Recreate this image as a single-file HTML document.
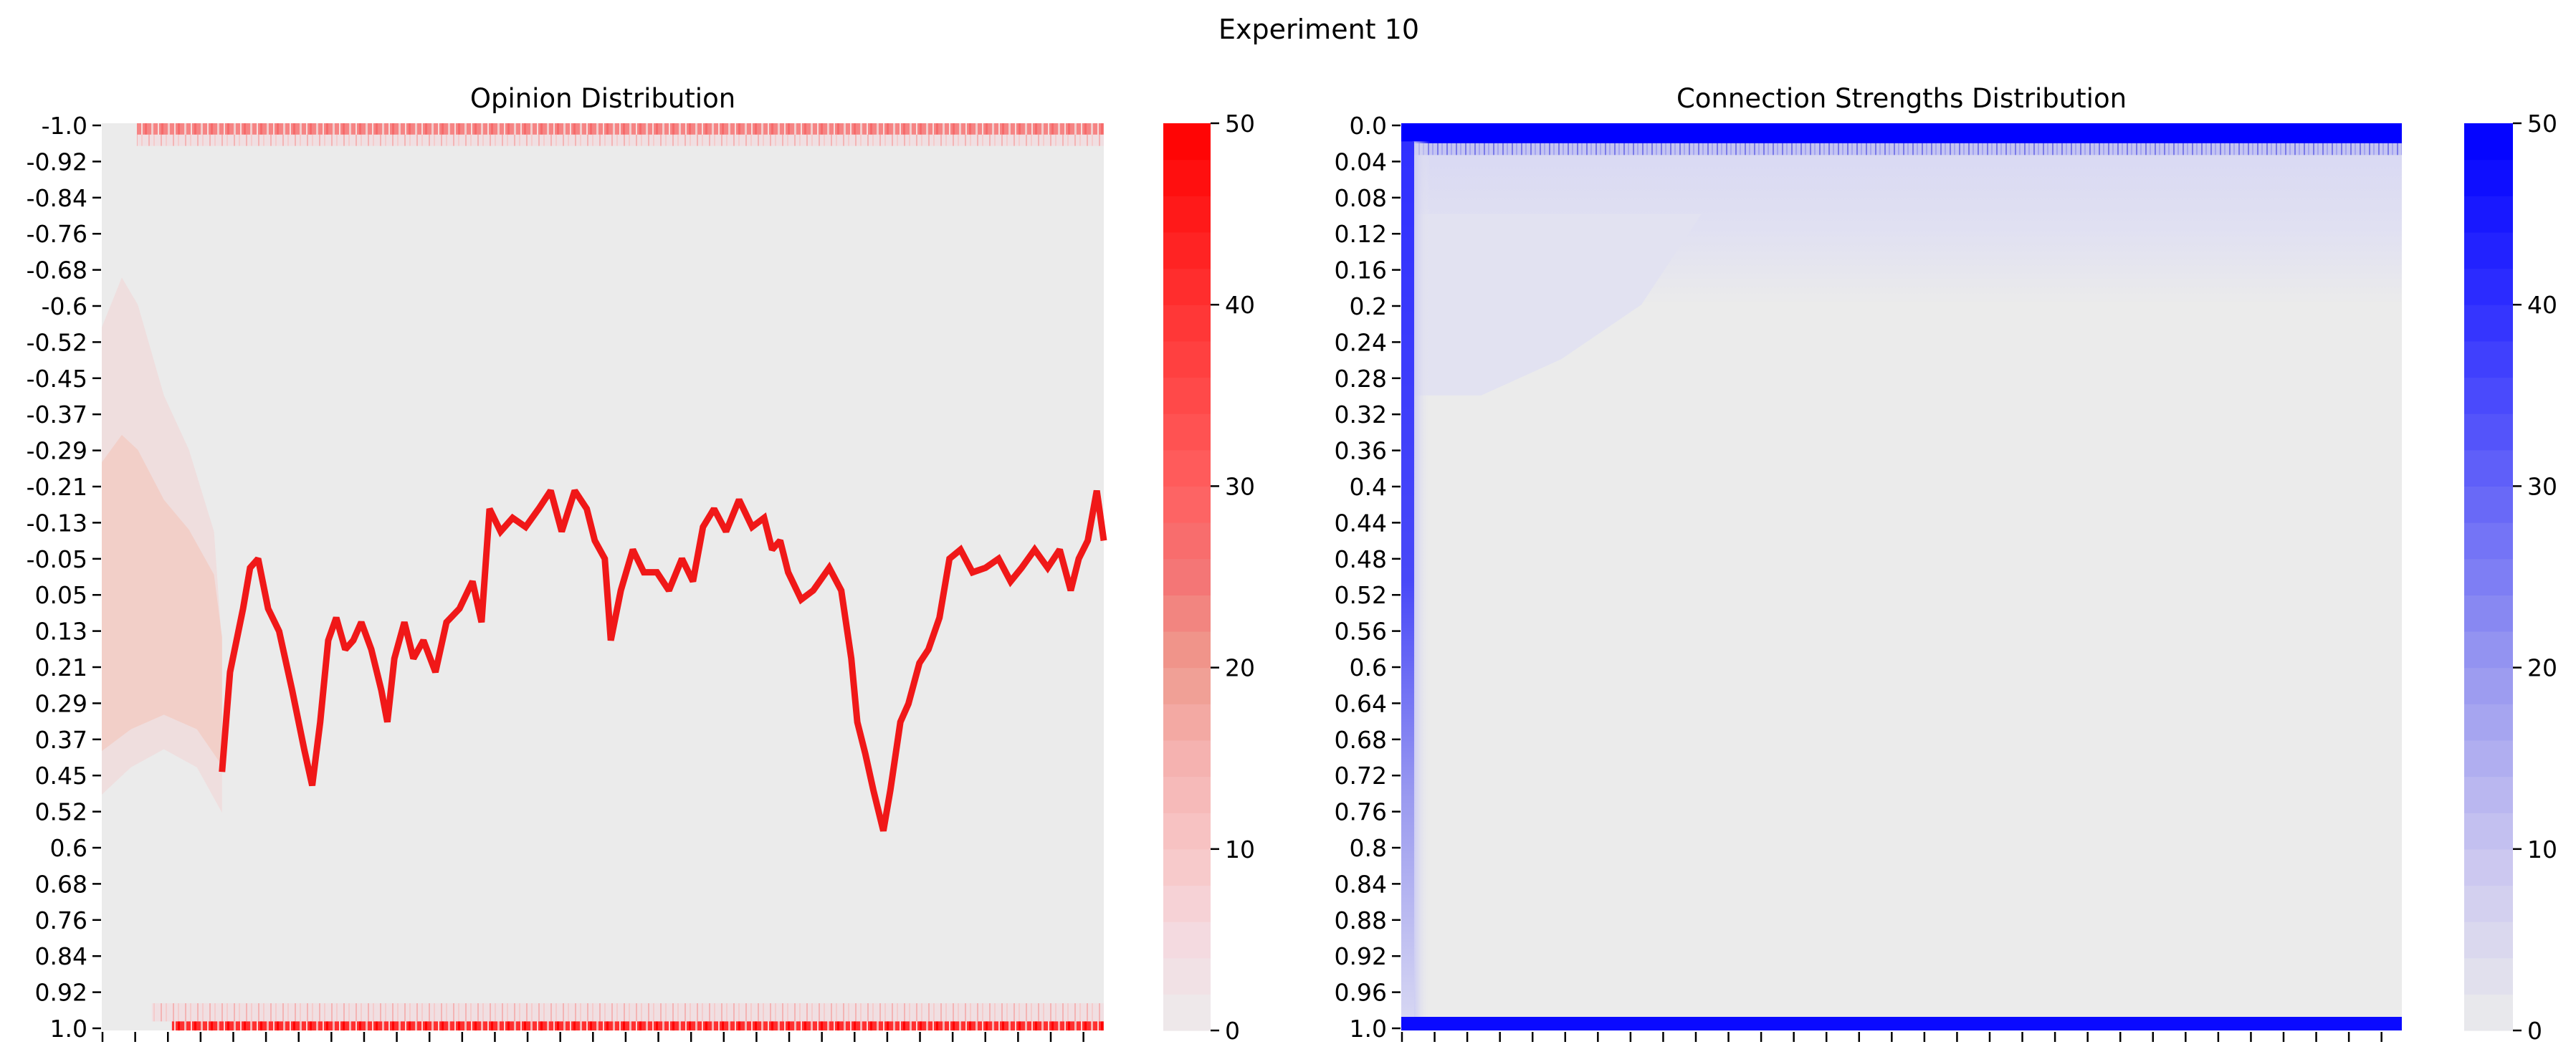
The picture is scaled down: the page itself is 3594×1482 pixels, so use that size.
<!DOCTYPE html>
<html><head><meta charset="utf-8"><style>
html,body{margin:0;padding:0;background:#fff;}
svg{display:block;font-family:"DejaVu Sans","Liberation Sans",sans-serif;}
</style></head><body>
<svg id="fig" width="3594" height="1482" viewBox="0 0 3594 1482" xmlns="http://www.w3.org/2000/svg">
<text x="1840" y="54" font-size="38" text-anchor="middle">Experiment 10</text>
<text x="841" y="150" font-size="37" text-anchor="middle">Opinion Distribution</text>
<text x="2653" y="150" font-size="37" text-anchor="middle">Connection Strengths Distribution</text>
<g id="left"></g>
<g id="right"></g>
<g id="cbl"></g>
<g id="cbr"></g>
<g id="axes"></g>
</svg>
<script>
// ---- data ----
const opinionTicks = ["-1.0","-0.92","-0.84","-0.76","-0.68","-0.6","-0.52","-0.45","-0.37","-0.29","-0.21","-0.13","-0.05","0.05","0.13","0.21","0.29","0.37","0.45","0.52","0.6","0.68","0.76","0.84","0.92","1.0"];
const strengthTicks = ["0.0","0.04","0.08","0.12","0.16","0.2","0.24","0.28","0.32","0.36","0.4","0.44","0.48","0.52","0.56","0.6","0.64","0.68","0.72","0.76","0.8","0.84","0.88","0.92","0.96","1.0"];
const colorbarTicks = [0,10,20,30,40,50];
const traceTime = [12.0,12.8,14.1,14.8,15.6,16.6,17.7,19.0,20.2,21.0,21.8,22.6,23.4,24.3,25.1,25.9,26.9,27.9,28.5,29.2,30.2,31.1,32.1,33.3,34.4,35.7,37.0,37.9,38.7,39.8,41.0,42.3,43.6,44.8,45.9,47.2,48.4,49.2,50.2,50.8,51.8,53.0,54.1,55.4,56.6,57.9,59.0,60.0,61.1,62.3,63.6,64.9,66.1,66.9,67.7,68.5,69.8,71.0,72.6,73.8,74.8,75.4,76.2,77.0,78.0,78.7,79.7,80.5,81.6,82.5,83.6,84.6,85.7,86.9,88.2,89.5,90.7,91.8,93.1,94.4,95.6,96.7,97.5,98.4,99.3,100];
const traceValue = [0.43,0.21,0.07,-0.02,-0.04,0.07,0.12,0.25,0.38,0.46,0.32,0.14,0.09,0.16,0.14,0.10,0.16,0.25,0.32,0.18,0.10,0.18,0.14,0.21,0.10,0.07,0.01,0.10,-0.15,-0.10,-0.13,-0.11,-0.15,-0.19,-0.10,-0.19,-0.15,-0.08,-0.04,0.14,0.03,-0.06,-0.01,-0.01,0.03,-0.04,0.01,-0.11,-0.15,-0.10,-0.17,-0.11,-0.13,-0.06,-0.08,-0.01,0.05,0.03,-0.02,0.03,0.18,0.32,0.39,0.47,0.56,0.47,0.32,0.28,0.19,0.16,0.09,-0.04,-0.06,-0.01,-0.02,-0.04,0.01,-0.02,-0.06,-0.02,-0.06,0.03,-0.04,-0.08,-0.19,-0.08];
const spreadUpperT = [0,2,3.6,6.2,8.7,11.2,12];
const spreadUpperV = [-0.55,-0.66,-0.60,-0.40,-0.28,-0.10,0.15];
const spreadLowerT = [12,9.5,6.2,2.9,0];
const spreadLowerV = [0.52,0.42,0.38,0.42,0.48];

const NS="http://www.w3.org/2000/svg";
function mk(parent,tag,attrs){const e=document.createElementNS(NS,tag);for(const k in attrs)e.setAttribute(k,attrs[k]);parent.appendChild(e);return e;}

const L={x0:142,x1:1540,y0:172,y1:1438};
const R={x0:1955,x1:3351,y0:172,y1:1438};
const lx=t=>L.x0+t/100*(L.x1-L.x0);
const ly=v=>L.y0+(v+1)/2*(L.y1-L.y0);
const rx=t=>R.x0+t/100*(R.x1-R.x0);
const ry=v=>R.y0+v*(R.y1-R.y0);
const BG="#ebebeb";

const gl=document.getElementById('left');
const defs=mk(document.getElementById('fig'),'defs',{});
const p1=mk(defs,'pattern',{id:'stripR',width:23,height:10,patternUnits:'userSpaceOnUse'});
mk(p1,'rect',{x:0,y:0,width:23,height:10,fill:'#ff3030'});
mk(p1,'rect',{x:4,y:0,width:3,height:10,fill:'#f6b3b3'});
mk(p1,'rect',{x:13,y:0,width:2,height:10,fill:'#ffd0d0'});
mk(p1,'rect',{x:18,y:0,width:3,height:10,fill:'#ff0000'});
const p2=mk(defs,'pattern',{id:'stripP',width:17,height:10,patternUnits:'userSpaceOnUse'});
mk(p2,'rect',{x:0,y:0,width:17,height:10,fill:'#f0dfe2'});
mk(p2,'rect',{x:3,y:0,width:2,height:10,fill:'#f4b4b4'});
mk(p2,'rect',{x:10,y:0,width:2,height:10,fill:'#f5cccc'});
const p3=mk(defs,'pattern',{id:'stripB',width:13,height:10,patternUnits:'userSpaceOnUse'});
mk(p3,'rect',{x:0,y:0,width:13,height:10,fill:'#c4c4f2'});
mk(p3,'rect',{x:3,y:0,width:2,height:10,fill:'#7a7ae8'});
mk(p3,'rect',{x:9,y:0,width:2,height:10,fill:'#a4a4f0'});

const bgL=mk(gl,'rect',{x:L.x0,y:L.y0,width:L.x1-L.x0,height:L.y1-L.y0,fill:BG});



let r=mk(gl,'rect',{x:lx(3.5),y:ly(-0.975),width:lx(100)-lx(3.5),height:ly(-0.95)-ly(-0.975),fill:'url(#stripP)'});

r=mk(gl,'rect',{x:lx(3.5),y:ly(-1),width:lx(100)-lx(3.5),height:ly(-0.975)-ly(-1),fill:'url(#stripR)',opacity:0.55});

r=mk(gl,'rect',{x:lx(5),y:ly(0.94),width:lx(100)-lx(5),height:ly(0.98)-ly(0.94),fill:'url(#stripP)'});

r=mk(gl,'rect',{x:lx(7),y:ly(0.98),width:lx(100)-lx(7),height:ly(1)-ly(0.98),fill:'url(#stripR)'});


let pts=[];
spreadUpperT.forEach((t,i)=>pts.push(lx(t)+','+ly(spreadUpperV[i])));
spreadLowerT.forEach((t,i)=>pts.push(lx(t)+','+ly(spreadLowerV[i])));
r=mk(gl,'polygon',{points:pts.join(' '),fill:'#efdede'});

pts=[];
spreadUpperT.forEach((t,i)=>pts.push(lx(t)+','+ly(spreadUpperV[i]*0.55+0.05)));
spreadLowerT.forEach((t,i)=>pts.push(lx(t)+','+ly(spreadLowerV[i]*0.8)));
r=mk(gl,'polygon',{points:pts.join(' '),fill:'#f2cfc8'});


const linePts=traceTime.map((t,i)=>lx(t)+','+ly(traceValue[i])).join(' ');
r=mk(gl,'polyline',{points:linePts,fill:'none',stroke:'#f01818','stroke-width':9,'stroke-linejoin':'miter','stroke-miterlimit':2});


// ---- right heatmap ----
const gr=document.getElementById('right');
r=mk(gr,'rect',{x:R.x0,y:R.y0,width:R.x1-R.x0,height:R.y1-R.y0,fill:BG});

const lg=mk(defs,'linearGradient',{id:'lav',x1:0,y1:0,x2:0,y2:1});
mk(lg,'stop',{offset:0,'stop-color':'#d9d9f3'});
mk(lg,'stop',{offset:0.5,'stop-color':'#e0e0f2'});
mk(lg,'stop',{offset:1,'stop-color':'#ebebeb'});
r=mk(gr,'rect',{x:R.x0,y:ry(0.03),width:R.x1-R.x0,height:ry(0.2)-ry(0.03),fill:'url(#lav)'});

const hz=[[1,0.1],[30,0.1],[24,0.2],[16,0.26],[8,0.3],[1,0.3]];
r=mk(gr,'polygon',{points:hz.map(p=>rx(p[0])+','+ry(p[1])).join(' '),fill:'#e2e2f1'});

r=mk(gr,'rect',{x:R.x0,y:ry(0.02),width:R.x1-R.x0,height:ry(0.035)-ry(0.02),fill:'url(#stripB)'});

r=mk(gr,'rect',{x:R.x0,y:ry(0),width:R.x1-R.x0,height:ry(0.022)-ry(0),fill:'#0000ff'});

r=mk(gr,'rect',{x:R.x0,y:ry(0.985),width:R.x1-R.x0,height:ry(1)-ry(0.985),fill:'#0a0aff'});

const eg=mk(defs,'linearGradient',{id:'edge',x1:0,y1:0,x2:0,y2:1});
mk(eg,'stop',{offset:0,'stop-color':'#3030ff'});
mk(eg,'stop',{offset:0.5,'stop-color':'#4848f8'});
mk(eg,'stop',{offset:0.75,'stop-color':'#9a9af0'});
mk(eg,'stop',{offset:1,'stop-color':'#d6d6f2'});
const hg=mk(defs,'linearGradient',{id:'fadeH',x1:0,y1:0,x2:1,y2:0});
mk(hg,'stop',{offset:0,'stop-color':'#c8c8f4'});
mk(hg,'stop',{offset:1,'stop-color':'#ebebeb','stop-opacity':0});
r=mk(gr,'rect',{x:R.x0+16,y:ry(0.02),width:24,height:ry(0.985)-ry(0.02),fill:'url(#fadeH)'});

r=mk(gr,'rect',{x:R.x0,y:ry(0.02),width:18,height:ry(0.985)-ry(0.02),fill:'url(#edge)'});


// ---- colorbars ----
const stopsR=[[0,[236,236,236]],[5,[244,218,224]],[10,[248,198,198]],[15,[245,178,176]],[20,[239,155,143]],[25,[244,118,118]],[30,[255,96,96]],[40,[255,50,50]],[50,[255,0,0]]];
const stopsB=[[0,[236,236,236]],[10,[200,196,240]],[20,[152,152,240]],[30,[100,100,248]],[40,[48,48,255]],[50,[0,0,255]]];
function col(stops,v){for(let i=0;i<stops.length-1;i++){const[a,ca]=stops[i],[b,cb]=stops[i+1];if(v<=b){const f=(v-a)/(b-a);return 'rgb('+ca.map((c,k)=>Math.round(c+(cb[k]-c)*f)).join(',')+')';}}return 'rgb(0,0,0)';}
function colorbar(id,x0,x1,stops,nm){
  const g=document.getElementById(id);const y0=172,y1=1438;const n=25;
  for(let i=0;i<n;i++){const v0=i*2,v1=v0+2;const ya=y1-(v1/50)*(y1-y0),yb=y1-(v0/50)*(y1-y0);
    const b=mk(g,'rect',{x:x0,y:ya,width:x1-x0,height:yb-ya+0.6,fill:col(stops,v0+1)});
    
    }
  colorbarTicks.forEach(t=>{const y=y1-(t/50)*(y1-y0);
    mk(g,'line',{x1:x1,x2:x1+12,y1:y,y2:y,stroke:'#000','stroke-width':2.5});
    const tx=mk(g,'text',{x:x1+20,y:y+12,'font-size':33});tx.textContent=t;
    
    });
}
colorbar('cbl',1623,1689,stopsR,'opinion-colorbar');
colorbar('cbr',3438,3506,stopsB,'connection-colorbar');

// ---- axes ticks ----
const ga=document.getElementById('axes');
function yaxis(labels,X,y0,y1,nm){
  labels.forEach((lab,i)=>{const y=y0+3+i*(y1-y0-6)/(labels.length-1);
    mk(ga,'line',{x1:X-13,x2:X-1,y1:y,y2:y,stroke:'#000','stroke-width':2.5});
    const t=mk(ga,'text',{x:X-20,y:y+12,'font-size':33,'text-anchor':'end'});t.textContent=lab;
    
    });
}
yaxis(opinionTicks,L.x0,L.y0,L.y1,'opinion-y-tick-label');
yaxis(strengthTicks,R.x0,R.y0,R.y1,'strength-y-tick-label');
function xticks(X0,X1){const n=31;for(let i=0;i<n;i++){const x=X0+1+i*(X1-X0-2)/(n-1)*(30/30.6);
  mk(ga,'line',{x1:x,x2:x,y1:1440,y2:1454,stroke:'#000','stroke-width':2.5});}}
xticks(L.x0,L.x1);xticks(R.x0,R.x1);
</script>
</body></html>
